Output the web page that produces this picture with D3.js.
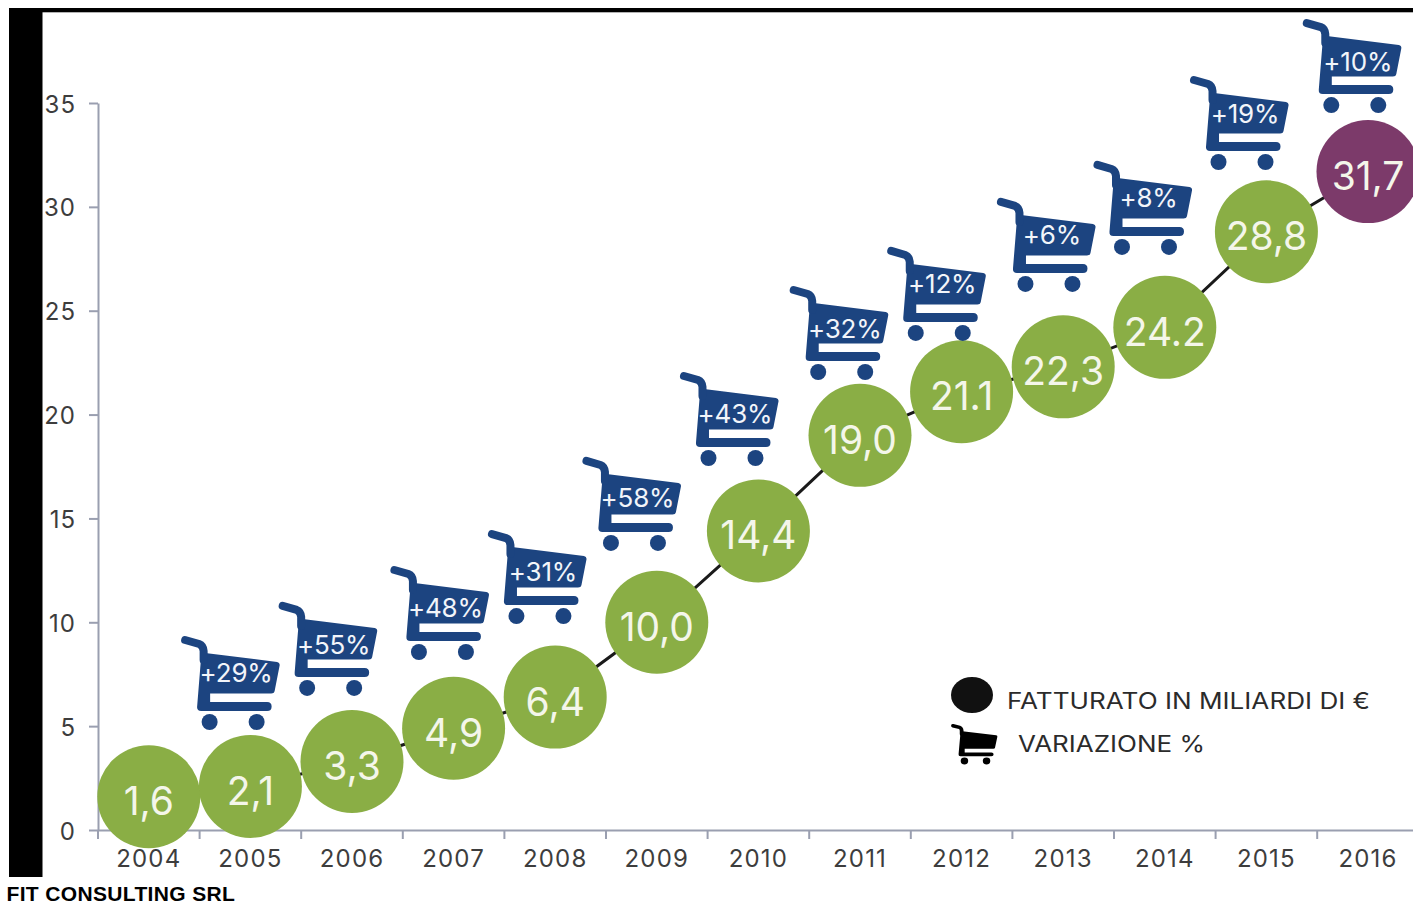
<!DOCTYPE html>
<html lang="it">
<head>
<meta charset="utf-8">
<title>Fatturato in miliardi di €</title>
<script src="https://cdn.jsdelivr.net/npm/d3@7/dist/d3.min.js"></script>
<style>
  html, body { margin: 0; padding: 0; background: #fff; }
  svg { display: block; }
  text { font-family: Inter, "Open Sans", sans-serif; }
</style>
</head>
<body>
<svg id="chart" width="1413" height="903"></svg>
<script>
// Revenue per year, in billions of euro
const years = [2004, 2005, 2006, 2007, 2008, 2009, 2010, 2011, 2012, 2013, 2014, 2015, 2016];
const revenue = [1.6, 2.1, 3.3, 4.9, 6.4, 10.0, 14.4, 19.0, 21.1, 22.3, 24.2, 28.8, 31.7];
const revenueLabels = ["1,6", "2,1", "3,3", "4,9", "6,4", "10,0", "14,4", "19,0", "21.1", "22,3", "24.2", "28,8", "31,7"];

// Year-on-year change shown on the shopping carts
const cartYears = [2005, 2006, 2007, 2008, 2009, 2010, 2011, 2012, 2013, 2014, 2015, 2016];
const changeLabels = ["+29%", "+55%", "+48%", "+31%", "+58%", "+43%", "+32%", "+12%", "+6%", "+8%", "+19%", "+10%"];
// Height of each cart's wheels and of its label on the value axis, and the cart's sideways shift as a fraction of a year
const cartLevels = [5.2, 6.84, 8.57, 10.3, 13.82, 17.91, 22.05, 23.93, 26.29, 28.07, 32.16, 34.9];
const changeLevels = [7.13, 8.48, 10.26, 11.99, 15.56, 19.6, 23.69, 25.86, 28.22, 30.0, 34.04, 36.55];
const cartShifts = [-0.17, -0.21, -0.11, -0.15, -0.22, -0.26, -0.18, -0.22, -0.14, -0.19, -0.24, -0.13];

const yTicks = [0, 5, 10, 15, 20, 25, 30, 35];

const svg = d3.select("#chart");
const axisColor = "#9a9fb0", tickText = "#3d3d3d";
const green = "#8aae45", purple = "#7c3a6a", navy = "#1c4480";

const x = d3.scaleBand().domain(years).range([98, 1418.8]);
const y = d3.scaleLinear().domain([0, 35]).range([830, 103]);

// Image frame: heavy black edge on the left and along the top
svg.append("rect").attr("x", 9).attr("y", 8).attr("width", 33.5).attr("height", 869).attr("fill", "#000");
svg.append("rect").attr("x", 9).attr("y", 8).attr("width", 1404).attr("height", 4.3).attr("fill", "#000");

// Value axis
const yAxis = svg.append("g")
  .attr("transform", "translate(98,0)")
  .call(d3.axisLeft(y).tickValues(yTicks).tickSize(9).tickSizeOuter(0).tickPadding(13));
yAxis.selectAll("path, line").attr("stroke", axisColor).attr("stroke-width", 2);
yAxis.selectAll("text")
  .attr("fill", tickText).attr("font-size", 24).attr("font-family", "Inter")
  .attr("letter-spacing", 1).attr("dy", "0.38em");

// Year axis, with ticks on the band edges and labels in the band centres
const xAxis = svg.append("g")
  .attr("transform", "translate(0,830)")
  .call(d3.axisBottom(x).tickSize(0).tickPadding(20).tickSizeOuter(0));
xAxis.select("path").attr("stroke", axisColor).attr("stroke-width", 2);
xAxis.selectAll("text")
  .attr("fill", tickText).attr("font-size", 24).attr("font-family", "Inter")
  .attr("letter-spacing", 1.2);
xAxis.selectAll("line.edge").data(years).join("line").attr("class", "edge")
  .attr("x1", d => x(d)).attr("x2", d => x(d))
  .attr("y1", 0).attr("y2", 9)
  .attr("stroke", axisColor).attr("stroke-width", 2);

// Revenue line, mostly hidden behind the circles
const cx = d => x(d) + x.bandwidth() / 2;
svg.append("path")
  .datum(years.map((yr, i) => [cx(yr), y(revenue[i])]))
  .attr("d", d3.line())
  .attr("fill", "none").attr("stroke", "#1a1a1a").attr("stroke-width", 3);

// Revenue circles and their values
const points = svg.append("g").selectAll("g").data(years).join("g")
  .attr("transform", (d, i) => `translate(${cx(d)},${y(revenue[i])})`);
points.append("circle").attr("r", 51.5)
  .attr("fill", (d, i) => i === years.length - 1 ? purple : green);
points.append("text")
  .attr("text-anchor", "middle").attr("y", 18.5)
  .attr("font-size", 39).attr("font-weight", 400).attr("fill", "#f4f6ea")
  .text((d, i) => revenueLabels[i]);

// Shopping cart, drawn around the midpoint between its wheels
const cartBody = "M-28,-69 L44,-60 Q47,-59.5 46.5,-56.5 L41.5,-31 Q41,-28.5 38,-28.5 L-23,-28.5 L-23,-20 " +
  "L34,-20 Q38.5,-20 38.5,-15.5 Q38.5,-11 34,-11 L-32,-11 Q-36.5,-11 -36,-15.5 L-32,-65 Q-32,-69 -28,-69 Z";
const cartHandle = "M-48,-82 L-34,-78 Q-30,-76.5 -29.5,-71 L-29.5,-62";
function drawCart(g, color) {
  g.append("path").attr("d", cartBody).attr("fill", color);
  g.append("path").attr("d", cartHandle).attr("fill", "none").attr("stroke", color)
    .attr("stroke-width", 8).attr("stroke-linecap", "round");
  g.selectAll("circle.wheel").data([-23.5, 23.5]).join("circle").attr("class", "wheel")
    .attr("cx", d => d).attr("cy", 0).attr("r", 8).attr("fill", color);
}

const cartX = (d, i) => cx(d) + cartShifts[i] * x.step();
const carts = svg.append("g").selectAll("g").data(cartYears).join("g");
carts.append("g")
  .attr("transform", (d, i) => `translate(${cartX(d, i)},${y(cartLevels[i])})`)
  .each(function () { drawCart(d3.select(this), navy); });
carts.append("text")
  .attr("x", (d, i) => cartX(d, i) + 3).attr("y", (d, i) => y(changeLevels[i]))
  .attr("text-anchor", "middle").attr("font-size", 26).attr("letter-spacing", "-0.2")
  .attr("fill", "#f2f5fa")
  .text((d, i) => changeLabels[i]);

// Legend
svg.append("ellipse").attr("cx", 972).attr("cy", 695)
  .attr("rx", 21).attr("ry", 18).attr("fill", "#111");
svg.append("text").attr("x", 1007).attr("y", 709)
  .attr("font-size", 22.5).attr("fill", "#2b2b2b")
  .attr("textLength", 363).attr("lengthAdjust", "spacingAndGlyphs")
  .text("FATTURATO IN MILIARDI DI €");
drawCart(svg.append("g").attr("transform", "translate(975.5,761) scale(0.47,0.43)"), "#000");
svg.append("text").attr("x", 1018).attr("y", 751.5)
  .attr("font-size", 22.5).attr("fill", "#2b2b2b")
  .attr("textLength", 187).attr("lengthAdjust", "spacingAndGlyphs")
  .text("VARIAZIONE %");

// Source line under the chart
svg.append("text").attr("x", 6.5).attr("y", 901)
  .attr("font-size", 21).attr("font-weight", 700).attr("fill", "#000")
  .attr("letter-spacing", 0.35)
  .style("font-family", "'Liberation Sans', Arial, sans-serif")
  .text("FIT CONSULTING SRL");
</script>
</body>
</html>
